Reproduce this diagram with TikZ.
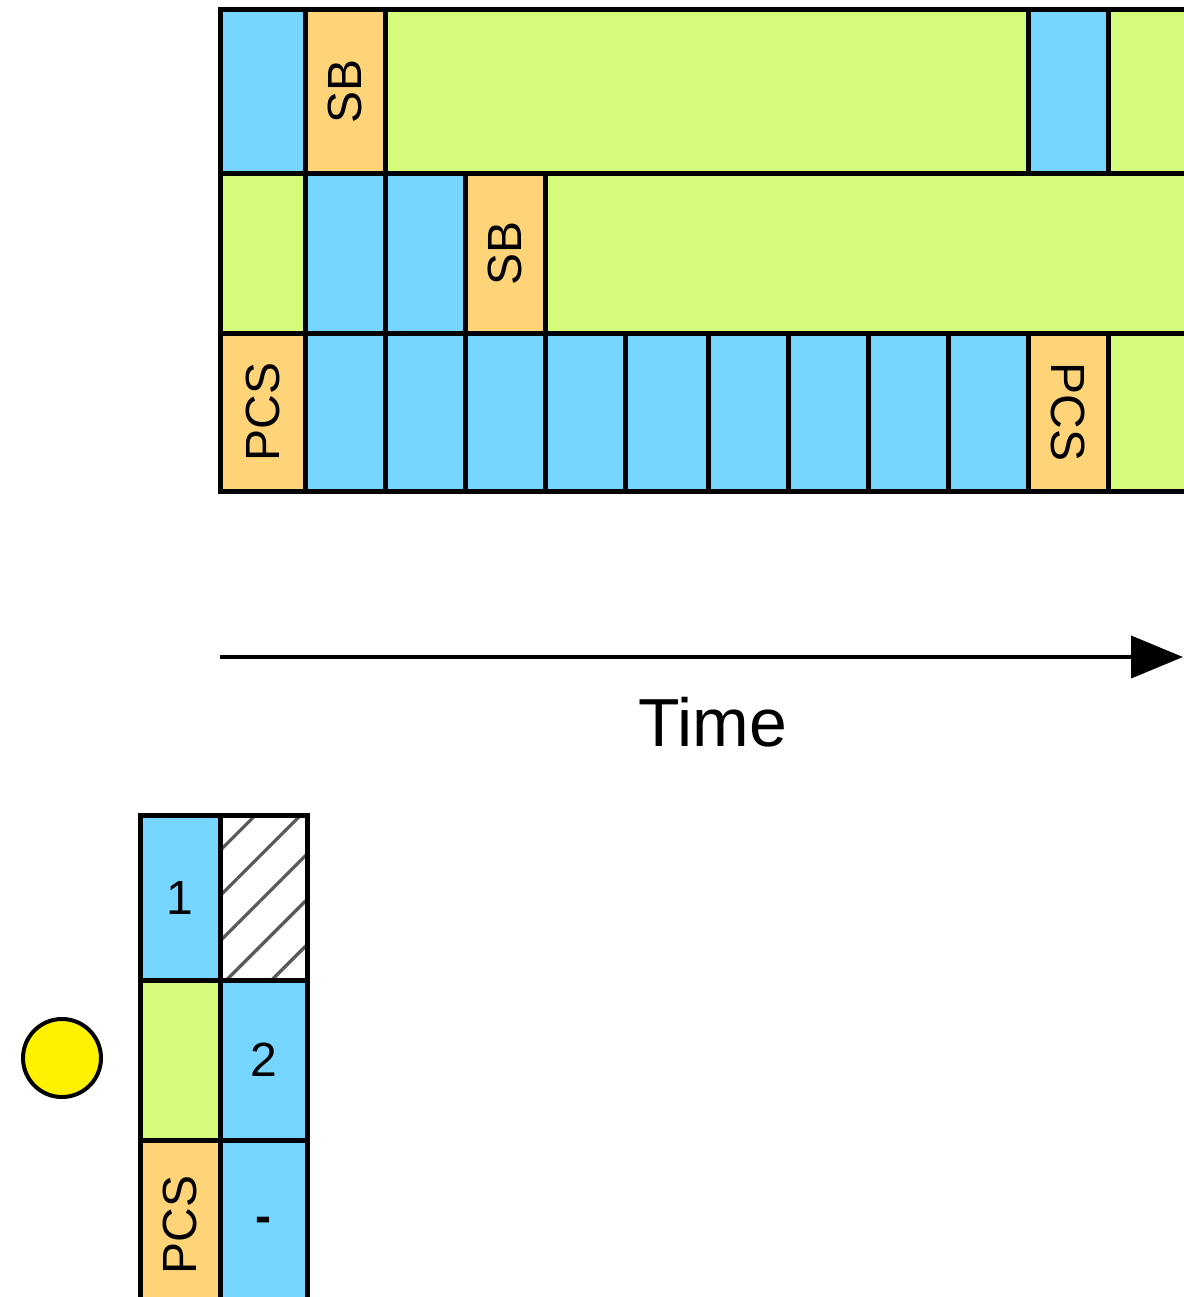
\documentclass[tikz,border=0pt]{standalone}
\usepackage{fontspec}
\setmainfont{Liberation Sans}
\usepackage{graphicx}
\usetikzlibrary{arrows.meta, patterns.meta}

\definecolor{sky}{HTML}{76D6FF}
\definecolor{cantaloupe}{HTML}{FFD479}
\definecolor{honeydew}{HTML}{D4FB79}

\begin{document}
\begin{tikzpicture}[
  x=0.5pt, y=-0.5pt,
  font=\fontsize{24}{28}\selectfont,
  cell/.style={rectangle, draw=black, line width=2.5pt, inner sep=0pt,
               outer sep=0pt, anchor=north west, minimum width=40pt},
  slot/.style={cell, fill=sky},
  sync/.style={cell, fill=cantaloupe},
  idle/.style={cell, fill=honeydew},
  blank/.style={cell, pattern={Lines[angle=45, distance=16pt, line width=1.6pt]},
                pattern color=black!65},
  rowa/.style={minimum height=82pt},
  rowb/.style={minimum height=80pt},
  rowc/.style={minimum height=79pt},
]
\useasboundingbox (0,0) rectangle (1184,1297);
\clip (0,0) rectangle (1184,1297);

% First row
\node[slot, rowa, minimum width=42.5pt]  (a1) at (220,9)  {};
\node[sync, rowa]                        (a2) at (305,9)  {\rotatebox{90}{SB}};
\node[idle, rowa, minimum width=321.5pt] (a3) at (385,9)  {};
\node[slot, rowa]                        (a4) at (1028,9) {};
\node[idle, rowa, minimum width=50pt]    (a5) at (1108,9) {};

% Second row
\node[idle, rowb, minimum width=42.5pt]  (b1) at (220,173) {};
\node[slot, rowb]                        (b2) at (305,173) {};
\node[slot, rowb]                        (b3) at (385,173) {};
\node[sync, rowb]                        (b4) at (465,173) {\rotatebox{90}{SB}};
\node[idle, rowb, minimum width=330pt]   (b5) at (545,173) {};

% Third row
\node[sync, rowc, minimum width=42.5pt]  (c1) at (220,333) {\rotatebox{90}{PCS}};
\foreach \x [count=\i from 2] in {305,385,465,545}
  \node[slot, rowc] (c\i) at (\x,333) {};
\node[slot, rowc, minimum width=41.5pt]  (c6) at (625,333) {};
\foreach \x [count=\i from 7] in {708,788,868,948}
  \node[slot, rowc] (c\i) at (\x,333) {};
\node[sync, rowc]                        (c11) at (1028,333) {\rotatebox{-90}{PCS}};
\node[idle, rowc, minimum width=50pt]    (c12) at (1108,333) {};

% Time axis
\coordinate (t0) at (220,657);
\coordinate (t1) at (1183,657);
\draw[line width=2pt, -{Triangle[length=26pt, width=21pt]}] (t0) -- (t1);
\node[font=\fontsize{34}{40}\selectfont] (time) at (713,722) {Time};

% Small grid
\node[slot, minimum height=82.5pt]                        (d1) at (140,815)  {1};
\node[blank, minimum width=43.5pt, minimum height=82.5pt] (d2) at (220,815)  {};
\node[idle, minimum height=80pt]                          (e1) at (140,980)  {};
\node[slot, minimum width=43.5pt, minimum height=80pt]    (e2) at (220,980)  {2};
\node[sync, minimum height=85pt]                          (f1) at (140,1140) {\rotatebox{90}{PCS}};
\node[slot, minimum width=43.5pt, minimum height=85pt]    (f2) at (220,1140) {\textbf{-}};

% Terminal
\node[circle, draw=black, fill=yellow, line width=2pt, minimum size=39pt,
      inner sep=0pt] (ue) at (62,1058) {};

\end{tikzpicture}
\end{document}
